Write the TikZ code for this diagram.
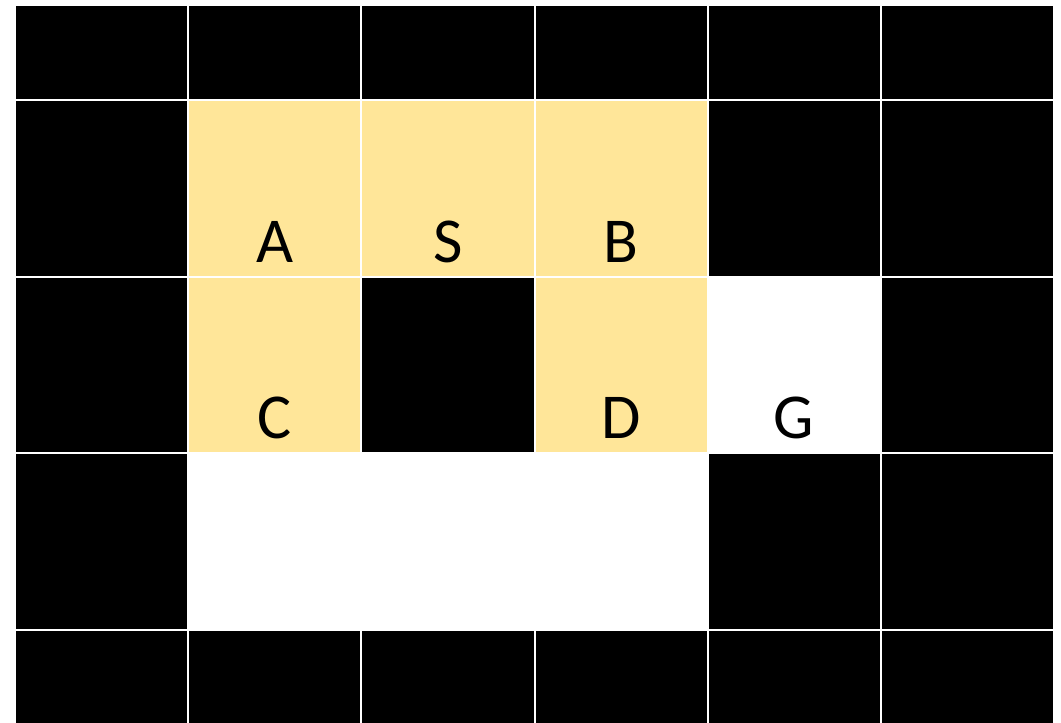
\documentclass[tikz,border=0pt]{standalone}
\usepackage{fontspec}
\setmainfont{Carlito}
\definecolor{gold}{HTML}{FFE699}
\begin{document}
\begin{tikzpicture}[x=1pt,y=-1pt,
  blk/.style={fill=black},
  ylw/.style={fill=gold},
  lbl/.style={anchor=base,inner sep=0pt,font=\fontsize{64}{76}\selectfont}]
\useasboundingbox (0,0) rectangle (1061,723);
\clip (0,0) rectangle (1061,723);
\fill[white] (0,0) rectangle (1061,723);
% column / row boundaries
\def\cx{{15,188,361,535,708,881,1054}}
\def\ry{{5,100,277,453,630,807}}
% cell map: 0 white, 1 black, 2 yellow
\foreach \r/\row in {0/{1,1,1,1,1,1},1/{1,2,2,2,1,1},2/{1,2,1,2,0,1},3/{1,0,0,0,1,1},4/{1,1,1,1,1,1}}{
  \foreach \t [count=\c from 0] in \row {
    \pgfmathsetmacro{\xa}{\cx[\c]+1}
    \pgfmathsetmacro{\xb}{\cx[\c+1]-1}
    \pgfmathsetmacro{\ya}{\ry[\r]+1}
    \pgfmathsetmacro{\yb}{\ry[\r+1]-1}
    \ifnum\t=1 \fill[black] (\xa,\ya) rectangle (\xb,\yb);\fi
    \ifnum\t=2 \fill[gold] (\xa,\ya) rectangle (\xb,\yb);\fi
  }
}
\node[lbl] (A) at (275,262) {A};
\node[lbl] (S) at (448,262) {S};
\node[lbl] (B) at (621,262) {B};
\node[lbl] (C) at (275,438) {C};
\node[lbl] (D) at (621,438) {D};
\node[lbl] (G) at (794,438) {G};
\end{tikzpicture}
\end{document}
